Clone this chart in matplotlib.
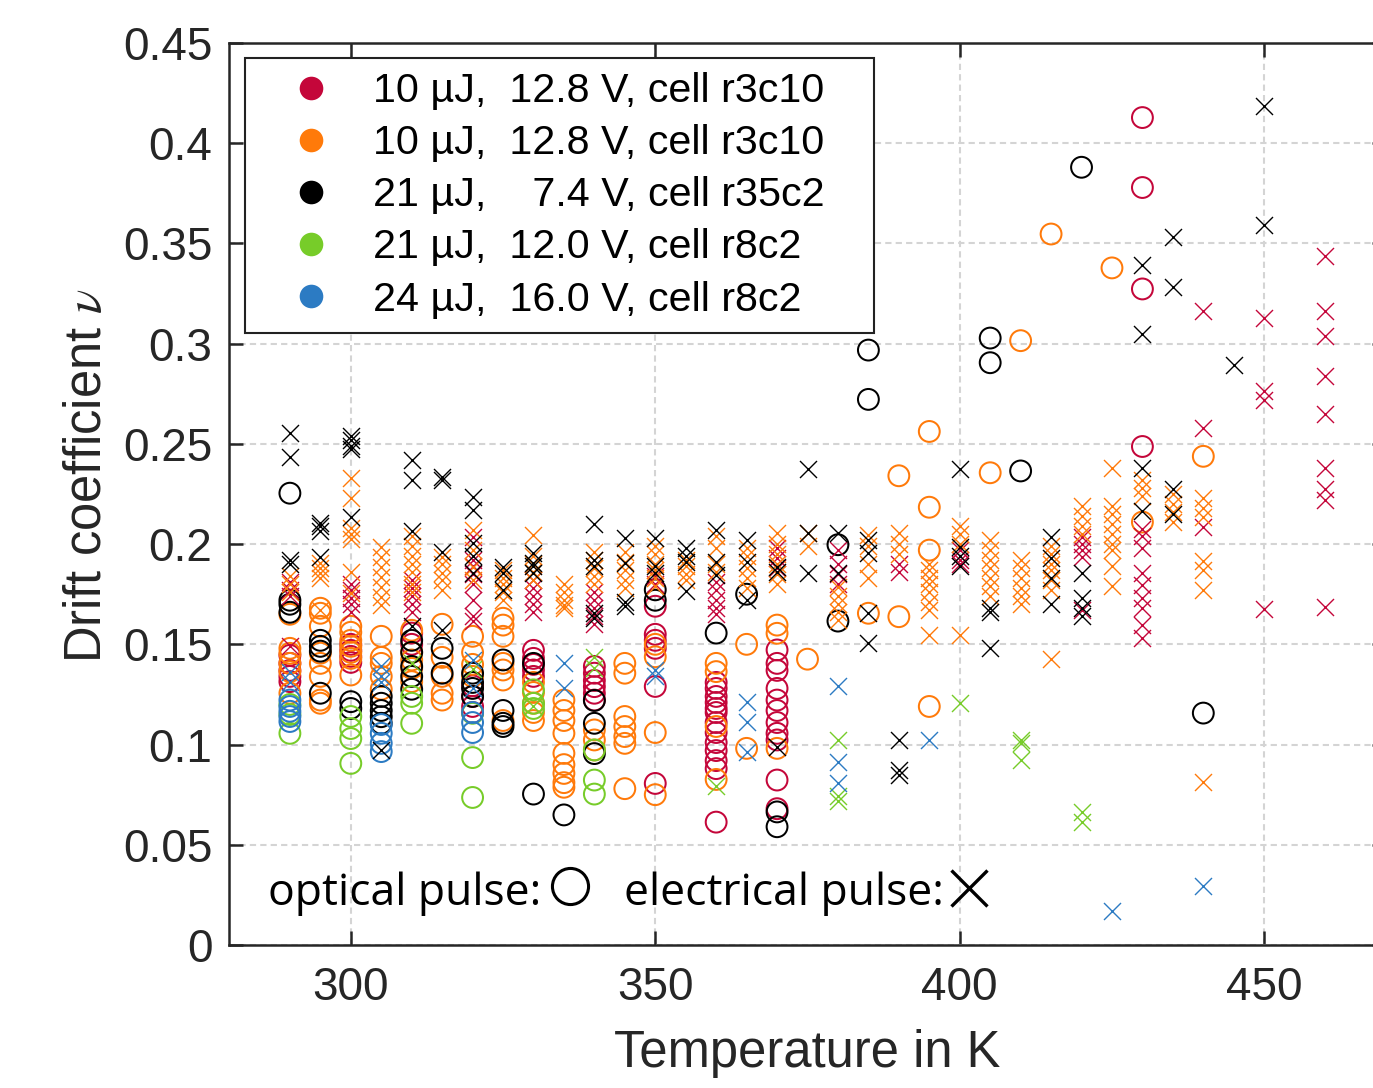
import matplotlib
matplotlib.use("Agg")
import matplotlib.pyplot as plt
from matplotlib.lines import Line2D

plt.rcParams.update({
    "font.family": ["Liberation Sans", "DejaVu Sans"],
    "mathtext.fontset": "stix",
})

# series colours (legend order)
COLORS = ["#C4063A", "#FF7A0A", "#000000", "#77CC29", "#2C7BC3"]
LABELS = [
    "10 µJ,  12.8 V, cell r3c10",
    "10 µJ,  12.8 V, cell r3c10",
    "21 µJ,    7.4 V, cell r35c2",
    "21 µJ,  12.0 V, cell r8c2",
    "24 µJ,  16.0 V, cell r8c2",
]

# ---- red: optical (circles) ----
red_opt_T = [290] * 5 + [300] * 4 + [310] * 2 + [320] * 4 + [330] * 5 + [340] * 6 + [350] * 6 \
    + [360] * 13 + [370] * 11 + [430] * 4
red_opt_v = [0.1445, 0.1405, 0.137, 0.134, 0.1314,
             0.150, 0.147, 0.144, 0.141,
             0.1556, 0.150,
             0.1293, 0.124, 0.119, 0.116,
             0.147, 0.143, 0.140, 0.1372, 0.134,
             0.139, 0.1356, 0.132, 0.1289, 0.1256, 0.1222,
             0.169, 0.155, 0.152, 0.148, 0.129, 0.0806,
             0.131, 0.128, 0.124, 0.121, 0.118, 0.116, 0.111, 0.106, 0.101, 0.097, 0.092, 0.088, 0.0613,
             0.1472, 0.1405, 0.137, 0.128, 0.1222, 0.117, 0.111, 0.1056, 0.1023, 0.0823, 0.068,
             0.4128, 0.3779, 0.3273, 0.2487]
# ---- red: electrical (crosses) ----
red_el_T = [290] * 4 + [300] * 5 + [310] * 5 + [320] * 8 + [330] * 5 + [340] * 5 + [350] * 2 \
    + [360] * 5 + [370] * 3 + [380] * 4 + [390] * 2 + [400] * 3 + [420] * 5 + [430] * 9 \
    + [440] * 3 + [450] * 4 + [460] * 9
red_el_v = [0.181, 0.177, 0.174, 0.149,
            0.180, 0.177, 0.173, 0.170, 0.166,
            0.182, 0.178, 0.174, 0.170, 0.166,
            0.2037, 0.192, 0.189, 0.185, 0.18, 0.172, 0.164, 0.1614,
            0.182, 0.178, 0.174, 0.170, 0.166,
            0.176, 0.172, 0.168, 0.164, 0.160,
            0.184, 0.180,
            0.181, 0.177, 0.172, 0.168, 0.165,
            0.198, 0.193, 0.188,
            0.197, 0.19, 0.185, 0.18,
            0.19, 0.186,
            0.197, 0.192, 0.19,
            0.2037, 0.2, 0.197, 0.1938, 0.167,
            0.2075, 0.204, 0.198, 0.1855, 0.1796, 0.173, 0.168, 0.1597, 0.153,
            0.3163, 0.2577, 0.2084,
            0.3128, 0.2764, 0.2719, 0.1676,
            0.3437, 0.3163, 0.3037, 0.2837, 0.265, 0.2381, 0.2275, 0.222, 0.1685]

# ---- orange: optical ----
orange_opt_T = [290] * 6 + [295] * 8 + [300] * 7 + [305] * 5 + [310] * 5 + [315] * 5 + [320] * 4 \
    + [325] * 7 + [330] * 5 + [335] * 9 + [340] * 3 + [345] * 7 + [350] * 4 + [360] * 4 \
    + [365] * 2 + [370] * 3 + [375, 385, 390, 390, 395, 395, 395, 395, 405, 410, 415, 425, 430, 440]
orange_opt_v = [0.165, 0.148, 0.1455, 0.1405, 0.1364, 0.1256,
                0.168, 0.1655, 0.159, 0.1456, 0.1405, 0.134, 0.1222, 0.1206,
                0.159, 0.156, 0.152, 0.149, 0.146, 0.143, 0.1347,
                0.154, 0.1435, 0.1405, 0.134, 0.1276,
                0.157, 0.146, 0.1422, 0.138, 0.1314,
                0.16, 0.1435, 0.134, 0.1256, 0.1222,
                0.154, 0.146, 0.140, 0.134,
                0.163, 0.1596, 0.154, 0.1405, 0.1372, 0.1322, 0.112,
                0.131, 0.126, 0.1206, 0.116, 0.112,
                0.1222, 0.117, 0.112, 0.1056, 0.0956, 0.090, 0.0856, 0.081, 0.0787,
                0.1073, 0.1023, 0.0973,
                0.1405, 0.1356, 0.114, 0.109, 0.104, 0.1006, 0.078,
                0.150, 0.1438, 0.106, 0.075,
                0.1405, 0.1364, 0.109, 0.0826,
                0.15, 0.0981,
                0.1596, 0.1555, 0.0981,
                0.1426, 0.1655, 0.2341, 0.1638, 0.2562, 0.2184, 0.197, 0.119,
                0.2356, 0.3015, 0.3547, 0.3378, 0.211, 0.2438]
# ---- orange: electrical ----
orange_el_T = [290] * 3 + [295] * 5 + [300] * 7 + [305] * 7 + [310] * 7 + [315] * 5 + [320] * 4 \
    + [325] * 5 + [330] * 5 + [335] * 5 + [340] * 5 + [345] * 5 + [350] * 6 + [355] * 4 \
    + [360] * 4 + [365] * 5 + [370] * 6 + [375] * 2 + [380] * 5 + [385] * 4 + [390] * 3 \
    + [395] * 8 + [400] * 4 + [405] * 7 + [410] * 6 + [415] * 7 + [420] * 4 + [425] * 9 \
    + [430] * 3 + [435] * 4 + [440] * 7
orange_el_v = [0.184, 0.180, 0.176,
               0.1905, 0.188, 0.1855, 0.183, 0.167,
               0.233, 0.223, 0.208, 0.205, 0.2025, 0.186, 0.1755,
               0.1988, 0.1938, 0.1888, 0.1838, 0.1788, 0.1738, 0.1697,
               0.204, 0.199, 0.194, 0.19, 0.186, 0.18, 0.176,
               0.1938, 0.19, 0.1855, 0.182, 0.177,
               0.207, 0.197, 0.1888, 0.182,
               0.187, 0.183, 0.180, 0.176, 0.172,
               0.2045, 0.194, 0.19, 0.186, 0.182,
               0.180, 0.176, 0.172, 0.1695, 0.168,
               0.196, 0.192, 0.188, 0.184, 0.180,
               0.196, 0.191, 0.187, 0.182, 0.178,
               0.199, 0.195, 0.19, 0.187, 0.183, 0.179,
               0.192, 0.189, 0.185, 0.182,
               0.204, 0.198, 0.19, 0.186,
               0.198, 0.194, 0.188, 0.183, 0.178,
               0.2055, 0.2, 0.195, 0.19, 0.185, 0.18,
               0.2055, 0.199,
               0.1788, 0.174, 0.17, 0.166, 0.1622,
               0.2045, 0.199, 0.19, 0.183,
               0.2055, 0.2, 0.195,
               0.19, 0.187, 0.183, 0.18, 0.176, 0.171, 0.167, 0.1546,
               0.2088, 0.205, 0.2, 0.1546,
               0.202, 0.197, 0.192, 0.188, 0.183, 0.179, 0.174,
               0.192, 0.188, 0.183, 0.178, 0.174, 0.17,
               0.199, 0.195, 0.19, 0.187, 0.182, 0.177, 0.1429,
               0.2188, 0.2138, 0.2088, 0.205,
               0.238, 0.219, 0.215, 0.21, 0.205, 0.2, 0.197, 0.1893, 0.1793,
               0.232, 0.228, 0.224,
               0.2248, 0.22, 0.216, 0.211,
               0.223, 0.218, 0.2135, 0.1915, 0.187, 0.177, 0.0813]

# ---- black: optical ----
black_opt_T = [290] * 4 + [295] * 4 + [300] * 2 + [305] * 5 + [310] * 5 + [315] * 2 + [320] * 4 \
    + [325] * 4 + [330] * 2 + [335] + [340] * 3 + [350] * 2 + [360, 365] + [370] * 2 \
    + [380] * 2 + [385] * 2 + [405] * 2 + [410, 420, 440]
black_opt_v = [0.2254, 0.172, 0.170, 0.166,
               0.152, 0.149, 0.1466, 0.1256,
               0.1214, 0.118,
               0.124, 0.1206, 0.117, 0.1139, 0.1106,
               0.152, 0.146, 0.139, 0.134, 0.1276,
               0.148, 0.1356,
               0.1356, 0.131, 0.128, 0.124,
               0.1422, 0.117, 0.1106, 0.109,
               0.1405, 0.0753,
               0.0649,
               0.122, 0.1106, 0.0955,
               0.1772, 0.172,
               0.1556, 0.175,
               0.0664, 0.059,
               0.1997, 0.1616,
               0.2968, 0.2722,
               0.3028, 0.2905,
               0.2365, 0.388, 0.1157]
# ---- black: electrical ----
black_el_T = [290] * 4 + [295] * 4 + [300] * 5 + [305] + [310] * 4 + [315] * 4 + [320] * 5 \
    + [325] * 3 + [330] * 4 + [340] * 5 + [345] * 4 + [350] * 3 + [355] * 4 + [360] * 3 \
    + [365] * 3 + [370] * 3 + [375] * 3 + [380] * 2 + [385] * 4 + [390] * 3 + [400] * 4 \
    + [405] * 3 + [415] * 4 + [420] * 4 + [430] * 4 + [435] * 4 + [445] + [450] * 2
black_el_v = [0.2553, 0.2433, 0.192, 0.190,
              0.2104, 0.2088, 0.2063, 0.1938,
              0.254, 0.252, 0.249, 0.2475, 0.2137,
              0.0973,
              0.242, 0.232, 0.2063, 0.159,
              0.2337, 0.232, 0.1963, 0.157,
              0.2237, 0.217, 0.2005, 0.194, 0.1855,
              0.1888, 0.1855, 0.177,
              0.1955, 0.1905, 0.189, 0.1855,
              0.21, 0.1922, 0.189, 0.1655, 0.163,
              0.203, 0.1905, 0.171, 0.169,
              0.203, 0.189, 0.1855,
              0.198, 0.194, 0.191, 0.1765,
              0.207, 0.191, 0.1847,
              0.202, 0.191, 0.172,
              0.1888, 0.186, 0.099,
              0.2373, 0.2055, 0.1855,
              0.2055, 0.1855,
              0.202, 0.1955, 0.1655, 0.1505,
              0.1023, 0.0873, 0.085,
              0.2373, 0.1988, 0.194, 0.189,
              0.1683, 0.166, 0.148,
              0.2037, 0.193, 0.183, 0.170,
              0.1855, 0.173, 0.168, 0.164,
              0.339, 0.3046, 0.238, 0.2165,
              0.353, 0.3283, 0.2275, 0.2148,
              0.2895,
              0.4188, 0.3594]

# ---- green ----
green_opt_T = [290] * 3 + [300] * 4 + [310] * 3 + [320] * 3 + [330] * 3 + [340] * 3
green_opt_v = [0.120, 0.115, 0.1056,
               0.114, 0.108, 0.103, 0.0906,
               0.124, 0.1206, 0.1106,
               0.1156, 0.0935, 0.0736,
               0.1273, 0.1206, 0.118,
               0.0973, 0.0823, 0.0753]
green_el_T = [310, 320, 330, 340, 340, 360, 380, 380, 380, 400, 410, 410, 410, 420, 420]
green_el_v = [0.1405, 0.1375, 0.119, 0.1438, 0.138, 0.0795, 0.1023, 0.0745, 0.072,
              0.1206, 0.1023, 0.101, 0.0923, 0.0664, 0.0614]

# ---- blue ----
blue_opt_T = [290] * 5 + [305] * 4 + [320] * 3
blue_opt_v = [0.1222, 0.119, 0.1166, 0.114, 0.1115,
              0.110, 0.1056, 0.1006, 0.0965,
              0.116, 0.111, 0.106]
blue_el_T = [290, 290, 305, 305, 305, 320, 320, 335, 335, 350, 350, 365, 365, 365,
             380, 380, 380, 395, 425, 440]
blue_el_v = [0.1364, 0.1314, 0.139, 0.134, 0.131, 0.142, 0.128, 0.1405, 0.128, 0.137, 0.134,
             0.1214, 0.1114, 0.0963, 0.129, 0.0915, 0.0806, 0.1023, 0.017, 0.0294]

optical = [(red_opt_T, red_opt_v), (orange_opt_T, orange_opt_v), (black_opt_T, black_opt_v),
           (green_opt_T, green_opt_v), (blue_opt_T, blue_opt_v)]
electrical = [(red_el_T, red_el_v), (orange_el_T, orange_el_v), (black_el_T, black_el_v),
              (green_el_T, green_el_v), (blue_el_T, blue_el_v)]

X_TICKS = [300, 350, 400, 450]
Y_TICKS = [0, 0.05, 0.1, 0.15, 0.2, 0.25, 0.3, 0.35, 0.4, 0.45]
Y_TICKLABELS = ["0", "0.05", "0.1", "0.15", "0.2", "0.25", "0.3", "0.35", "0.4", "0.45"]

W, H = 1373, 1088
fig = plt.figure(figsize=(W / 100, H / 100), dpi=100)
ax = fig.add_axes([229 / W, (H - 945) / H, 1157 / W, 902 / H])

for (T, v), col in zip(optical, COLORS):
    ax.scatter(T, v, s=225, marker="o", facecolors="none", edgecolors=col,
               linewidths=1.45, zorder=3)
for (T, v), col in zip(electrical, COLORS):
    ax.scatter(T, v, s=150, marker="x", c=col, linewidths=1.0, zorder=3)

ax.set_xlim(280, 470)
ax.set_ylim(0, 0.45)
ax.set_xticks(X_TICKS)
ax.set_yticks(Y_TICKS)
ax.set_yticklabels(Y_TICKLABELS)
ax.tick_params(direction="in", length=10, width=1.8, colors="#262626",
               labelsize=33, top=True, right=True)
ax.tick_params(axis="y", pad=12)
ax.tick_params(axis="x", pad=15)
ax.grid(True, color="#d4d4d4", linestyle=(0, (3, 2)), linewidth=1.5, zorder=0)
for sp in ax.spines.values():
    sp.set_color("#262626")
    sp.set_linewidth(1.8)

ax.set_xlabel("Temperature in K", fontsize=36.5, color="#262626", labelpad=14)
ax.set_ylabel(r"Drift coefficient $\nu$", fontsize=36.5, color="#262626")
ax.yaxis.set_label_coords(-0.101, 0.521)

handles = [Line2D([], [], linestyle="none", marker="o", markersize=17,
                  markerfacecolor=c, markeredgecolor="none") for c in COLORS]
leg = ax.legend(handles, [lab + "   " for lab in LABELS], loc="upper left",
                bbox_to_anchor=(0.0138, 0.9834), borderaxespad=0, fontsize=29.7,
                frameon=True, fancybox=False, framealpha=1, edgecolor="#222222",
                handlelength=2.49, handletextpad=0.27, labelspacing=0.34, borderpad=0.35)
leg.get_frame().set_linewidth(1.5)
leg.set_zorder(5)

ax.text(0.0337, 0.0443, "optical pulse:", transform=ax.transAxes, fontsize=32,
        family=["Open Sans", "DejaVu Sans"], va="baseline", ha="left")
ax.plot([0.2947], [0.0654], transform=ax.transAxes, marker="o", markersize=26,
        markerfacecolor="none", markeredgecolor="black", markeredgewidth=2.2, clip_on=False)
ax.text(0.3414, 0.0443, "electrical pulse:", transform=ax.transAxes, fontsize=32,
        family=["Open Sans", "DejaVu Sans"], va="baseline", ha="left")
ax.plot([0.6396], [0.0632], transform=ax.transAxes, marker="x", markersize=26,
        color="black", markeredgewidth=2.4, clip_on=False)

fig.savefig("out.png", dpi=100)
